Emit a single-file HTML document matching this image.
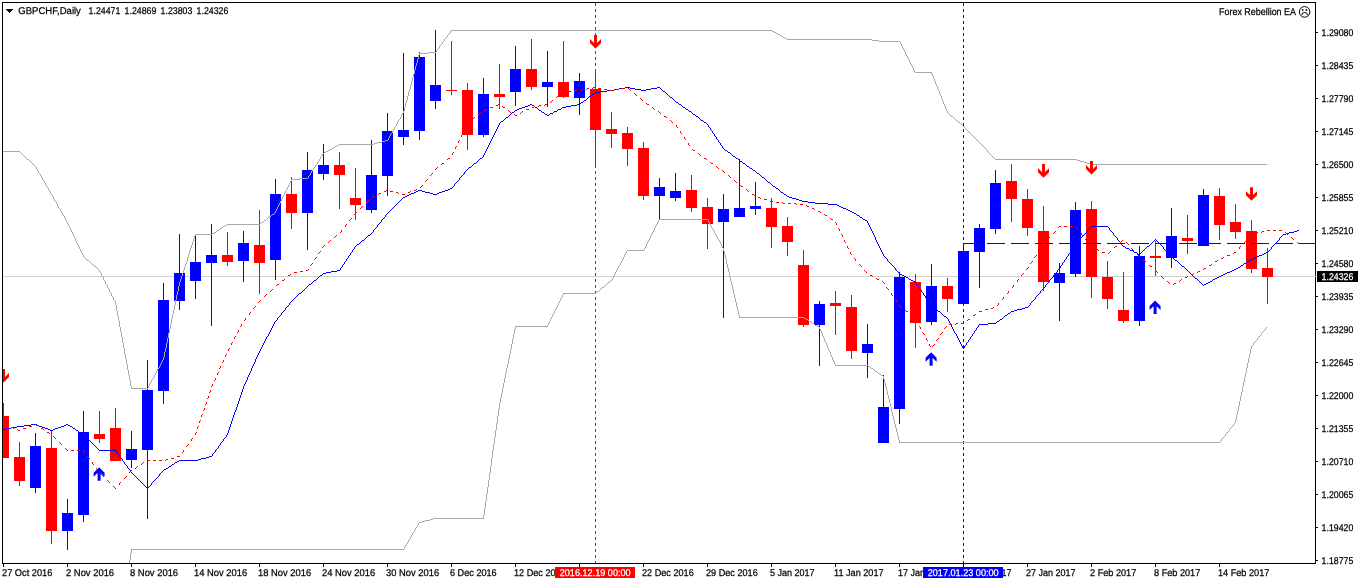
<!DOCTYPE html>
<html lang="en">
<head>
<meta charset="utf-8">
<title>GBPCHF,Daily</title>
<style>
html,body{margin:0;padding:0;background:#fff;}
body{width:1358px;height:584px;overflow:hidden;}
svg{display:block;}
text{text-rendering:geometricPrecision;font-family:"Liberation Sans",sans-serif;font-size:9.8px;fill:#000;stroke:#000;stroke-width:0.25px;}
.w{fill:#fff;stroke:#fff;}
</style>
</head>
<body>
<svg width="1358" height="584" viewBox="0 0 1358 584">
<rect x="0" y="0" width="1358" height="584" fill="#fff"/>
<defs><clipPath id="c"><rect x="3" y="3" width="1312" height="560"/></clipPath></defs>
<g clip-path="url(#c)" shape-rendering="crispEdges" fill="none">
<rect x="3" y="276" width="1312" height="1" fill="#D0D0D0"/>
<line x1="595.5" y1="3" x2="595.5" y2="563" stroke="#FF0000" stroke-width="1" stroke-dasharray="3 3"/>
<line x1="963.5" y1="3" x2="963.5" y2="563" stroke="#0000FF" stroke-width="1" stroke-dasharray="3 3"/>
<g fill="#FF0000"><rect x="3" y="403" width="1" height="55"/><rect x="-2" y="416" width="11" height="42"/></g>
<g fill="#FF0000"><rect x="19" y="442" width="1" height="44"/><rect x="14" y="457" width="11" height="24"/></g>
<g fill="#0000FF"><rect x="35" y="433" width="1" height="60"/><rect x="30" y="446" width="11" height="42"/></g>
<g fill="#FF0000"><rect x="51" y="431" width="1" height="113"/><rect x="46" y="448" width="11" height="83"/></g>
<g fill="#0000FF"><rect x="67" y="499" width="1" height="51"/><rect x="62" y="513" width="11" height="18"/></g>
<g fill="#0000FF"><rect x="83" y="411" width="1" height="111"/><rect x="78" y="432" width="11" height="83"/></g>
<g fill="#FF0000"><rect x="99" y="411" width="1" height="32"/><rect x="94" y="434" width="11" height="5"/></g>
<g fill="#FF0000"><rect x="115" y="408" width="1" height="53"/><rect x="110" y="428" width="11" height="33"/></g>
<g fill="#0000FF"><rect x="131" y="431" width="1" height="37"/><rect x="126" y="449" width="11" height="11"/></g>
<g fill="#0000FF"><rect x="147" y="360" width="1" height="159"/><rect x="142" y="390" width="11" height="60"/></g>
<g fill="#0000FF"><rect x="163" y="283" width="1" height="121"/><rect x="158" y="300" width="11" height="91"/></g>
<g fill="#0000FF"><rect x="179" y="234" width="1" height="76"/><rect x="174" y="273" width="11" height="28"/></g>
<g fill="#0000FF"><rect x="195" y="236" width="1" height="63"/><rect x="190" y="262" width="11" height="19"/></g>
<g fill="#0000FF"><rect x="211" y="224" width="1" height="102"/><rect x="206" y="255" width="11" height="8"/></g>
<g fill="#FF0000"><rect x="227" y="232" width="1" height="34"/><rect x="222" y="255" width="11" height="7"/></g>
<g fill="#0000FF"><rect x="243" y="231" width="1" height="51"/><rect x="238" y="243" width="11" height="18"/></g>
<g fill="#FF0000"><rect x="259" y="210" width="1" height="84"/><rect x="254" y="245" width="11" height="18"/></g>
<g fill="#0000FF"><rect x="275" y="179" width="1" height="101"/><rect x="270" y="194" width="11" height="66"/></g>
<g fill="#FF0000"><rect x="291" y="177" width="1" height="52"/><rect x="286" y="194" width="11" height="19"/></g>
<g fill="#0000FF"><rect x="307" y="152" width="1" height="98"/><rect x="302" y="170" width="11" height="43"/></g>
<g fill="#0000FF"><rect x="323" y="144" width="1" height="36"/><rect x="318" y="165" width="11" height="9"/></g>
<g fill="#FF0000"><rect x="339" y="152" width="1" height="57"/><rect x="334" y="165" width="11" height="10"/></g>
<g fill="#FF0000"><rect x="355" y="168" width="1" height="52"/><rect x="350" y="198" width="11" height="7"/></g>
<g fill="#0000FF"><rect x="371" y="140" width="1" height="73"/><rect x="366" y="175" width="11" height="35"/></g>
<g fill="#0000FF"><rect x="387" y="113" width="1" height="83"/><rect x="382" y="131" width="11" height="45"/></g>
<g fill="#0000FF"><rect x="403" y="53" width="1" height="92"/><rect x="398" y="130" width="11" height="7"/></g>
<g fill="#0000FF"><rect x="419" y="52" width="1" height="88"/><rect x="414" y="57" width="11" height="74"/></g>
<g fill="#0000FF"><rect x="435" y="30" width="1" height="79"/><rect x="430" y="85" width="11" height="16"/></g>
<g fill="#FF0000"><rect x="451" y="41" width="1" height="54"/><rect x="446" y="90" width="11" height="1"/></g>
<g fill="#FF0000"><rect x="467" y="83" width="1" height="67"/><rect x="462" y="90" width="11" height="45"/></g>
<g fill="#0000FF"><rect x="483" y="78" width="1" height="59"/><rect x="478" y="94" width="11" height="41"/></g>
<g fill="#FF0000"><rect x="499" y="64" width="1" height="45"/><rect x="494" y="94" width="11" height="3"/></g>
<g fill="#0000FF"><rect x="515" y="46" width="1" height="60"/><rect x="510" y="69" width="11" height="23"/></g>
<g fill="#FF0000"><rect x="531" y="39" width="1" height="51"/><rect x="526" y="69" width="11" height="18"/></g>
<g fill="#0000FF"><rect x="547" y="51" width="1" height="56"/><rect x="542" y="82" width="11" height="5"/></g>
<g fill="#FF0000"><rect x="563" y="41" width="1" height="57"/><rect x="558" y="82" width="11" height="15"/></g>
<g fill="#0000FF"><rect x="579" y="73" width="1" height="42"/><rect x="574" y="81" width="11" height="17"/></g>
<g fill="#FF0000"><rect x="595" y="69" width="1" height="98"/><rect x="590" y="89" width="11" height="41"/></g>
<g fill="#FF0000"><rect x="611" y="112" width="1" height="36"/><rect x="606" y="129" width="11" height="5"/></g>
<g fill="#FF0000"><rect x="627" y="127" width="1" height="39"/><rect x="622" y="133" width="11" height="16"/></g>
<g fill="#FF0000"><rect x="643" y="142" width="1" height="58"/><rect x="638" y="148" width="11" height="48"/></g>
<g fill="#0000FF"><rect x="659" y="178" width="1" height="41"/><rect x="654" y="187" width="11" height="9"/></g>
<g fill="#0000FF"><rect x="675" y="173" width="1" height="28"/><rect x="670" y="191" width="11" height="7"/></g>
<g fill="#FF0000"><rect x="691" y="175" width="1" height="37"/><rect x="686" y="190" width="11" height="18"/></g>
<g fill="#FF0000"><rect x="707" y="198" width="1" height="51"/><rect x="702" y="207" width="11" height="17"/></g>
<g fill="#0000FF"><rect x="723" y="194" width="1" height="124"/><rect x="718" y="209" width="11" height="13"/></g>
<g fill="#0000FF"><rect x="739" y="159" width="1" height="58"/><rect x="734" y="208" width="11" height="9"/></g>
<g fill="#0000FF"><rect x="755" y="182" width="1" height="33"/><rect x="750" y="206" width="11" height="3"/></g>
<g fill="#FF0000"><rect x="771" y="198" width="1" height="50"/><rect x="766" y="208" width="11" height="19"/></g>
<g fill="#FF0000"><rect x="787" y="217" width="1" height="39"/><rect x="782" y="226" width="11" height="16"/></g>
<g fill="#FF0000"><rect x="803" y="250" width="1" height="77"/><rect x="798" y="265" width="11" height="60"/></g>
<g fill="#0000FF"><rect x="819" y="301" width="1" height="65"/><rect x="814" y="304" width="11" height="21"/></g>
<g fill="#FF0000"><rect x="835" y="291" width="1" height="44"/><rect x="830" y="303" width="11" height="3"/></g>
<g fill="#FF0000"><rect x="851" y="295" width="1" height="64"/><rect x="846" y="307" width="11" height="44"/></g>
<g fill="#0000FF"><rect x="867" y="324" width="1" height="54"/><rect x="862" y="344" width="11" height="9"/></g>
<g fill="#0000FF"><rect x="883" y="375" width="1" height="68"/><rect x="878" y="407" width="11" height="36"/></g>
<g fill="#0000FF"><rect x="899" y="272" width="1" height="152"/><rect x="894" y="277" width="11" height="132"/></g>
<g fill="#FF0000"><rect x="915" y="274" width="1" height="74"/><rect x="910" y="282" width="11" height="41"/></g>
<g fill="#0000FF"><rect x="931" y="264" width="1" height="61"/><rect x="926" y="286" width="11" height="36"/></g>
<g fill="#FF0000"><rect x="947" y="278" width="1" height="34"/><rect x="942" y="286" width="11" height="13"/></g>
<g fill="#0000FF"><rect x="963" y="243" width="1" height="61"/><rect x="958" y="251" width="11" height="53"/></g>
<g fill="#0000FF"><rect x="979" y="224" width="1" height="64"/><rect x="974" y="228" width="11" height="24"/></g>
<g fill="#0000FF"><rect x="995" y="170" width="1" height="64"/><rect x="990" y="183" width="11" height="46"/></g>
<g fill="#FF0000"><rect x="1011" y="164" width="1" height="58"/><rect x="1006" y="181" width="11" height="18"/></g>
<g fill="#FF0000"><rect x="1027" y="189" width="1" height="47"/><rect x="1022" y="199" width="11" height="29"/></g>
<g fill="#FF0000"><rect x="1043" y="206" width="1" height="85"/><rect x="1038" y="231" width="11" height="51"/></g>
<g fill="#0000FF"><rect x="1059" y="263" width="1" height="58"/><rect x="1054" y="273" width="11" height="10"/></g>
<g fill="#0000FF"><rect x="1075" y="202" width="1" height="75"/><rect x="1070" y="210" width="11" height="64"/></g>
<g fill="#FF0000"><rect x="1091" y="201" width="1" height="97"/><rect x="1086" y="209" width="11" height="68"/></g>
<g fill="#FF0000"><rect x="1107" y="261" width="1" height="48"/><rect x="1102" y="277" width="11" height="22"/></g>
<g fill="#FF0000"><rect x="1123" y="272" width="1" height="51"/><rect x="1118" y="310" width="11" height="11"/></g>
<g fill="#0000FF"><rect x="1139" y="246" width="1" height="80"/><rect x="1134" y="256" width="11" height="65"/></g>
<g fill="#FF0000"><rect x="1155" y="241" width="1" height="35"/><rect x="1150" y="256" width="11" height="2"/></g>
<g fill="#0000FF"><rect x="1171" y="208" width="1" height="60"/><rect x="1166" y="236" width="11" height="22"/></g>
<g fill="#FF0000"><rect x="1187" y="215" width="1" height="39"/><rect x="1182" y="238" width="11" height="3"/></g>
<g fill="#0000FF"><rect x="1203" y="189" width="1" height="57"/><rect x="1198" y="195" width="11" height="51"/></g>
<g fill="#FF0000"><rect x="1219" y="188" width="1" height="52"/><rect x="1214" y="196" width="11" height="29"/></g>
<g fill="#FF0000"><rect x="1235" y="204" width="1" height="35"/><rect x="1230" y="222" width="11" height="10"/></g>
<g fill="#FF0000"><rect x="1251" y="220" width="1" height="53"/><rect x="1246" y="231" width="11" height="38"/></g>
<g fill="#FF0000"><rect x="1267" y="248" width="1" height="56"/><rect x="1262" y="268" width="11" height="9"/></g>
<path d="M2 151h18v1h-18zM20 152h1v1h-1zM21 153h1v1h-1zM22 154h1v1h-1zM23 155h1v1h-1zM24 156h1v1h-1zM25 157h1v1h-1zM26 158h1v1h-1zM27 159h2v1h-2zM29 160h1v1h-1zM30 161h1v1h-1zM31 162h1v1h-1zM32 163h1v1h-1zM33 164h1v1h-1zM34 165h1v1h-1zM35 166h1v1h-1zM36 167h1v2h-1zM37 169h1v2h-1zM38 171h1v2h-1zM39 173h1v1h-1zM40 174h1v2h-1zM41 176h1v2h-1zM42 178h1v2h-1zM43 180h1v1h-1zM44 181h1v2h-1zM45 183h1v2h-1zM46 185h1v2h-1zM47 187h1v1h-1zM48 188h1v2h-1zM49 190h1v2h-1zM50 192h1v2h-1zM51 194h1v1h-1zM52 195h1v2h-1zM53 197h1v2h-1zM54 199h1v2h-1zM55 201h1v1h-1zM56 202h1v2h-1zM57 204h1v2h-1zM58 206h1v2h-1zM59 208h1v1h-1zM60 209h1v2h-1zM61 211h1v2h-1zM62 213h1v2h-1zM63 215h1v1h-1zM64 216h1v2h-1zM65 218h1v2h-1zM66 220h1v2h-1zM67 222h1v2h-1zM68 224h1v2h-1zM69 226h1v2h-1zM70 228h1v2h-1zM71 230h1v2h-1zM72 232h1v2h-1zM73 234h1v2h-1zM74 236h1v2h-1zM75 238h1v3h-1zM76 241h1v2h-1zM77 243h1v2h-1zM78 245h1v2h-1zM79 247h1v2h-1zM80 249h1v2h-1zM81 251h1v2h-1zM82 253h1v2h-1zM83 255h1v2h-1zM84 257h1v1h-1zM85 258h1v1h-1zM86 259h1v1h-1zM87 260h2v1h-2zM89 261h1v1h-1zM90 262h1v1h-1zM91 263h1v1h-1zM92 264h1v1h-1zM93 265h1v1h-1zM94 266h2v1h-2zM96 267h1v1h-1zM97 268h1v1h-1zM98 269h1v1h-1zM99 270h1v2h-1zM100 272h1v1h-1zM101 273h1v3h-1zM102 276h1v1h-1zM103 277h1v3h-1zM104 280h1v1h-1zM105 281h1v3h-1zM106 284h1v1h-1zM107 285h1v3h-1zM108 288h1v1h-1zM109 289h1v3h-1zM110 292h1v1h-1zM111 293h1v3h-1zM112 296h1v1h-1zM113 297h1v3h-1zM114 300h1v1h-1zM115 301h1v4h-1zM116 305h1v6h-1zM117 311h1v5h-1zM118 316h1v5h-1zM119 321h1v6h-1zM120 327h1v5h-1zM121 332h1v5h-1zM122 337h1v6h-1zM123 343h1v5h-1zM124 348h1v6h-1zM125 354h1v5h-1zM126 359h1v5h-1zM127 364h1v6h-1zM128 370h1v5h-1zM129 375h1v5h-1zM130 380h1v6h-1zM131 386h1v3h-1zM132 388h16v1h-16zM148 386h1v2h-1zM149 384h1v2h-1zM150 382h1v2h-1zM151 380h1v2h-1zM152 379h1v1h-1zM153 377h1v2h-1zM154 375h1v2h-1zM155 373h1v2h-1zM156 371h1v2h-1zM157 369h1v2h-1zM158 368h1v1h-1zM159 366h1v2h-1zM160 364h1v2h-1zM161 362h1v2h-1zM162 360h1v2h-1zM163 357h1v3h-1zM164 352h1v5h-1zM165 348h1v4h-1zM166 343h1v5h-1zM167 338h1v5h-1zM168 333h1v5h-1zM169 329h1v4h-1zM170 324h1v5h-1zM171 319h1v5h-1zM172 314h1v5h-1zM173 310h1v4h-1zM174 305h1v5h-1zM175 300h1v5h-1zM176 295h1v5h-1zM177 291h1v4h-1zM178 286h1v5h-1zM179 282h1v4h-1zM180 279h1v3h-1zM181 276h1v3h-1zM182 273h1v3h-1zM183 270h1v3h-1zM184 267h1v3h-1zM185 264h1v3h-1zM186 261h1v3h-1zM187 257h1v4h-1zM188 254h1v3h-1zM189 251h1v3h-1zM190 248h1v3h-1zM191 245h1v3h-1zM192 242h1v3h-1zM193 239h1v3h-1zM194 236h1v3h-1zM195 234h1v2h-1zM196 234h16v1h-16zM212 233h2v1h-2zM214 232h2v1h-2zM216 231h1v1h-1zM217 230h2v1h-2zM219 229h1v1h-1zM220 228h2v1h-2zM222 227h1v1h-1zM223 226h2v1h-2zM225 225h2v1h-2zM227 224h33v1h-33zM260 223h1v1h-1zM261 222h2v1h-2zM263 221h1v1h-1zM264 220h2v1h-2zM266 219h1v1h-1zM267 218h1v1h-1zM268 217h1v1h-1zM269 216h2v1h-2zM271 215h1v1h-1zM272 214h2v1h-2zM274 213h1v1h-1zM275 211h1v2h-1zM276 209h1v2h-1zM277 207h1v2h-1zM278 205h1v2h-1zM279 203h1v2h-1zM280 201h1v2h-1zM281 199h1v2h-1zM282 197h1v2h-1zM283 195h1v2h-1zM284 193h1v2h-1zM285 191h1v2h-1zM286 189h1v2h-1zM287 187h1v2h-1zM288 185h1v2h-1zM289 183h1v2h-1zM290 181h1v2h-1zM291 179h1v2h-1zM292 179h8v1h-8zM300 178h8v1h-8zM308 176h1v2h-1zM309 175h1v1h-1zM310 173h1v2h-1zM311 171h1v2h-1zM312 170h1v1h-1zM313 168h1v2h-1zM314 167h1v1h-1zM315 165h1v2h-1zM316 164h1v1h-1zM317 162h1v2h-1zM318 161h1v1h-1zM319 159h1v2h-1zM320 157h1v2h-1zM321 156h1v1h-1zM322 154h1v2h-1zM323 153h1v1h-1zM324 152h2v1h-2zM326 151h2v1h-2zM328 150h2v1h-2zM330 149h2v1h-2zM332 148h1v1h-1zM333 147h2v1h-2zM335 146h2v1h-2zM337 145h2v1h-2zM339 144h35v1h-35zM374 143h3v1h-3zM377 142h5v1h-5zM382 141h3v1h-3zM385 140h3v1h-3zM388 138h1v2h-1zM389 136h1v2h-1zM390 134h1v2h-1zM391 133h1v1h-1zM392 131h1v2h-1zM393 129h1v2h-1zM394 127h1v2h-1zM395 126h1v1h-1zM396 124h1v2h-1zM397 122h1v2h-1zM398 120h1v2h-1zM399 119h1v1h-1zM400 117h1v2h-1zM401 115h1v2h-1zM402 113h1v2h-1zM403 111h1v2h-1zM404 107h1v4h-1zM405 103h1v4h-1zM406 100h1v3h-1zM407 96h1v4h-1zM408 92h1v4h-1zM409 89h1v3h-1zM410 85h1v4h-1zM411 81h1v4h-1zM412 77h1v4h-1zM413 74h1v3h-1zM414 70h1v4h-1zM415 66h1v4h-1zM416 63h1v3h-1zM417 59h1v4h-1zM418 55h1v4h-1zM419 53h1v2h-1zM420 53h8v1h-8zM428 52h8v1h-8zM436 50h1v2h-1zM437 49h1v1h-1zM438 48h1v1h-1zM439 46h1v2h-1zM440 45h1v1h-1zM441 44h1v1h-1zM442 42h1v2h-1zM443 41h1v1h-1zM444 39h1v2h-1zM445 38h1v1h-1zM446 37h1v1h-1zM447 35h1v2h-1zM448 34h1v1h-1zM449 33h1v1h-1zM450 31h1v2h-1zM451 30h321v1h-321zM772 31h2v1h-2zM774 32h2v1h-2zM776 33h2v1h-2zM778 34h2v1h-2zM780 35h1v1h-1zM781 36h2v1h-2zM783 37h2v1h-2zM785 38h2v1h-2zM787 39h85v1h-85zM872 40h7v1h-7zM879 41h21v1h-21zM900 42h1v2h-1zM901 44h1v2h-1zM902 46h1v2h-1zM903 48h1v2h-1zM904 50h1v2h-1zM905 52h1v2h-1zM906 54h1v2h-1zM907 56h1v2h-1zM908 58h1v2h-1zM909 60h1v2h-1zM910 62h1v2h-1zM911 64h1v2h-1zM912 66h1v2h-1zM913 68h1v2h-1zM914 70h1v2h-1zM915 72h17v1h-17zM931 73h1v1h-1zM932 74h1v2h-1zM933 76h1v3h-1zM934 79h1v2h-1zM935 81h1v3h-1zM936 84h1v2h-1zM937 86h1v3h-1zM938 89h1v2h-1zM939 91h1v3h-1zM940 94h1v2h-1zM941 96h1v3h-1zM942 99h1v2h-1zM943 101h1v3h-1zM944 104h1v2h-1zM945 106h1v3h-1zM946 109h1v2h-1zM947 111h1v2h-1zM948 113h1v1h-1zM949 114h1v1h-1zM950 115h1v1h-1zM951 116h2v1h-2zM953 117h1v1h-1zM954 118h1v1h-1zM955 119h1v1h-1zM956 120h1v1h-1zM957 121h1v1h-1zM958 122h2v1h-2zM960 123h1v1h-1zM961 124h1v1h-1zM962 125h1v1h-1zM963 126h1v1h-1zM964 127h1v1h-1zM965 128h1v1h-1zM966 129h1v1h-1zM967 130h1v1h-1zM968 131h1v1h-1zM969 132h1v1h-1zM970 133h1v1h-1zM971 134h1v1h-1zM972 135h1v1h-1zM973 136h1v1h-1zM974 137h1v1h-1zM975 138h1v1h-1zM976 139h1v1h-1zM977 140h1v1h-1zM978 141h1v1h-1zM979 142h1v1h-1zM980 143h1v1h-1zM981 144h1v1h-1zM982 145h1v1h-1zM983 146h1v1h-1zM984 147h1v1h-1zM985 148h1v1h-1zM986 149h1v1h-1zM987 150h1v2h-1zM988 152h1v1h-1zM989 153h1v1h-1zM990 154h1v1h-1zM991 155h1v1h-1zM992 156h1v1h-1zM993 157h1v1h-1zM994 158h1v1h-1zM995 159h82v1h-82zM1077 160h3v1h-3zM1080 161h4v1h-4zM1084 162h3v1h-3zM1087 163h3v1h-3zM1090 164h177v1h-177z" fill="#A9A9A9"/>
<path d="M115 657h1v4h-1zM116 650h1v7h-1zM117 643h1v7h-1zM118 636h1v7h-1zM119 629h1v7h-1zM120 622h1v7h-1zM121 615h1v7h-1zM122 608h1v7h-1zM123 602h1v6h-1zM124 595h1v7h-1zM125 588h1v7h-1zM126 581h1v7h-1zM127 574h1v7h-1zM128 567h1v7h-1zM129 560h1v7h-1zM130 553h1v7h-1zM131 549h1v4h-1zM132 549h272v1h-272zM404 547h1v2h-1zM405 545h1v2h-1zM406 544h1v1h-1zM407 542h1v2h-1zM408 540h1v2h-1zM409 539h1v1h-1zM410 537h1v2h-1zM411 535h1v2h-1zM412 533h1v2h-1zM413 532h1v1h-1zM414 530h1v2h-1zM415 528h1v2h-1zM416 527h1v1h-1zM417 525h1v2h-1zM418 523h1v2h-1zM419 522h3v1h-3zM422 521h3v1h-3zM425 520h5v1h-5zM430 519h3v1h-3zM433 518h51v1h-51zM483 515h1v3h-1zM484 508h1v7h-1zM485 501h1v7h-1zM486 494h1v7h-1zM487 487h1v7h-1zM488 480h1v7h-1zM489 473h1v7h-1zM490 466h1v7h-1zM491 458h1v8h-1zM492 451h1v7h-1zM493 444h1v7h-1zM494 437h1v7h-1zM495 430h1v7h-1zM496 423h1v7h-1zM497 416h1v7h-1zM498 409h1v7h-1zM499 403h1v6h-1zM500 398h1v5h-1zM501 393h1v5h-1zM502 388h1v5h-1zM503 383h1v5h-1zM504 378h1v5h-1zM505 373h1v5h-1zM506 368h1v5h-1zM507 364h1v4h-1zM508 359h1v5h-1zM509 354h1v5h-1zM510 349h1v5h-1zM511 344h1v5h-1zM512 339h1v5h-1zM513 334h1v5h-1zM514 329h1v5h-1zM515 326h1v3h-1zM516 326h32v1h-32zM547 325h1v1h-1zM548 323h1v2h-1zM549 321h1v2h-1zM550 319h1v2h-1zM551 317h1v2h-1zM552 315h1v2h-1zM553 313h1v2h-1zM554 311h1v2h-1zM555 309h1v2h-1zM556 307h1v2h-1zM557 305h1v2h-1zM558 303h1v2h-1zM559 301h1v2h-1zM560 299h1v2h-1zM561 297h1v2h-1zM562 295h1v2h-1zM563 293h1v2h-1zM564 293h32v1h-32zM596 292h1v1h-1zM597 291h2v1h-2zM599 290h1v1h-1zM600 289h1v1h-1zM601 288h1v1h-1zM602 287h2v1h-2zM604 286h1v1h-1zM605 285h1v1h-1zM606 284h1v1h-1zM607 283h1v1h-1zM608 282h2v1h-2zM610 281h1v1h-1zM611 280h1v1h-1zM612 278h1v2h-1zM613 276h1v2h-1zM614 274h1v2h-1zM615 272h1v2h-1zM616 270h1v2h-1zM617 268h1v2h-1zM618 266h1v2h-1zM619 265h1v1h-1zM620 263h1v2h-1zM621 261h1v2h-1zM622 259h1v2h-1zM623 257h1v2h-1zM624 255h1v2h-1zM625 253h1v2h-1zM626 251h1v2h-1zM627 250h17v1h-17zM644 248h1v2h-1zM645 246h1v2h-1zM646 244h1v2h-1zM647 242h1v2h-1zM648 240h1v2h-1zM649 238h1v2h-1zM650 236h1v2h-1zM651 234h1v2h-1zM652 232h1v2h-1zM653 230h1v2h-1zM654 228h1v2h-1zM655 226h1v2h-1zM656 224h1v2h-1zM657 222h1v2h-1zM658 220h1v2h-1zM659 219h49v1h-49zM708 220h1v2h-1zM709 222h1v2h-1zM710 224h1v2h-1zM711 226h1v2h-1zM712 228h1v1h-1zM713 229h1v2h-1zM714 231h1v2h-1zM715 233h1v2h-1zM716 235h1v2h-1zM717 237h1v2h-1zM718 239h1v1h-1zM719 240h1v2h-1zM720 242h1v2h-1zM721 244h1v2h-1zM722 246h1v2h-1zM723 248h1v3h-1zM724 251h1v4h-1zM725 255h1v4h-1zM726 259h1v5h-1zM727 264h1v4h-1zM728 268h1v4h-1zM729 272h1v5h-1zM730 277h1v4h-1zM731 281h1v4h-1zM732 285h1v4h-1zM733 289h1v5h-1zM734 294h1v4h-1zM735 298h1v4h-1zM736 302h1v5h-1zM737 307h1v4h-1zM738 311h1v4h-1zM739 315h1v3h-1zM740 317h64v1h-64zM804 318h2v1h-2zM806 319h2v1h-2zM808 320h1v1h-1zM809 321h2v1h-2zM811 322h1v1h-1zM812 323h2v1h-2zM814 324h1v1h-1zM815 325h2v1h-2zM817 326h2v1h-2zM819 327h1v2h-1zM820 329h1v2h-1zM821 331h1v2h-1zM822 333h1v3h-1zM823 336h1v2h-1zM824 338h1v3h-1zM825 341h1v2h-1zM826 343h1v2h-1zM827 345h1v3h-1zM828 348h1v2h-1zM829 350h1v2h-1zM830 352h1v3h-1zM831 355h1v2h-1zM832 357h1v3h-1zM833 360h1v2h-1zM834 362h1v2h-1zM835 364h1v2h-1zM836 365h32v1h-32zM868 366h2v1h-2zM870 367h1v1h-1zM871 368h2v1h-2zM873 369h1v1h-1zM874 370h1v1h-1zM875 371h2v1h-2zM877 372h1v1h-1zM878 373h2v1h-2zM880 374h1v1h-1zM881 375h2v1h-2zM883 376h1v3h-1zM884 379h1v4h-1zM885 383h1v4h-1zM886 387h1v4h-1zM887 391h1v4h-1zM888 395h1v4h-1zM889 399h1v4h-1zM890 403h1v4h-1zM891 407h1v5h-1zM892 412h1v4h-1zM893 416h1v4h-1zM894 420h1v4h-1zM895 424h1v4h-1zM896 428h1v4h-1zM897 432h1v4h-1zM898 436h1v4h-1zM899 440h1v3h-1zM900 442h320v1h-320zM1220 441h1v1h-1zM1221 439h1v2h-1zM1222 438h1v1h-1zM1223 437h1v1h-1zM1224 436h1v1h-1zM1225 434h1v2h-1zM1226 433h1v1h-1zM1227 432h1v1h-1zM1228 431h1v1h-1zM1229 429h1v2h-1zM1230 428h1v1h-1zM1231 427h1v1h-1zM1232 426h1v1h-1zM1233 424h1v2h-1zM1234 423h1v1h-1zM1235 420h1v3h-1zM1236 415h1v5h-1zM1237 411h1v4h-1zM1238 406h1v5h-1zM1239 401h1v5h-1zM1240 396h1v5h-1zM1241 392h1v4h-1zM1242 387h1v5h-1zM1243 382h1v5h-1zM1244 377h1v5h-1zM1245 373h1v4h-1zM1246 368h1v5h-1zM1247 363h1v5h-1zM1248 358h1v5h-1zM1249 354h1v4h-1zM1250 349h1v5h-1zM1251 346h1v3h-1zM1252 345h1v1h-1zM1253 343h1v2h-1zM1254 342h1v1h-1zM1255 341h1v1h-1zM1256 340h1v1h-1zM1257 338h1v2h-1zM1258 337h1v1h-1zM1259 336h1v1h-1zM1260 335h1v1h-1zM1261 333h1v2h-1zM1262 332h1v1h-1zM1263 331h1v1h-1zM1264 330h1v1h-1zM1265 328h1v2h-1zM1266 327h1v1h-1z" fill="#A9A9A9"/>
<line x1="963" y1="243.5" x2="1315" y2="243.5" stroke="#0000FF" stroke-width="1" stroke-dasharray="18 6"/>
<path d="M3 429h3v1h-3zM6 428h5v1h-5zM11 427h6v1h-6zM17 426h7v1h-7zM24 425h7v1h-7zM31 424h6v1h-6zM37 425h2v1h-2zM39 426h3v1h-3zM42 427h3v1h-3zM45 428h3v1h-3zM48 429h2v1h-2zM50 430h3v1h-3zM53 429h2v1h-2zM55 428h3v1h-3zM58 427h3v1h-3zM61 426h3v1h-3zM64 425h2v1h-2zM66 424h2v1h-2zM68 425h2v1h-2zM70 426h2v1h-2zM72 427h1v1h-1zM73 428h2v1h-2zM75 429h1v1h-1zM76 430h2v1h-2zM78 431h1v1h-1zM79 432h2v1h-2zM81 433h2v1h-2zM83 434h1v1h-1zM84 435h1v1h-1zM85 436h1v1h-1zM86 437h1v1h-1zM87 438h1v1h-1zM88 439h1v1h-1zM89 440h1v1h-1zM90 441h1v1h-1zM91 442h1v1h-1zM92 443h1v1h-1zM93 444h1v1h-1zM94 445h1v1h-1zM95 446h1v1h-1zM96 447h1v1h-1zM97 448h1v1h-1zM98 449h1v1h-1zM99 450h17v1h-17zM116 451h1v2h-1zM117 453h1v1h-1zM118 454h1v1h-1zM119 455h1v2h-1zM120 457h1v1h-1zM121 458h1v1h-1zM122 459h1v2h-1zM123 461h1v1h-1zM124 462h1v2h-1zM125 464h1v1h-1zM126 465h1v1h-1zM127 466h1v2h-1zM128 468h1v1h-1zM129 469h1v1h-1zM130 470h1v2h-1zM131 472h1v1h-1zM132 473h1v1h-1zM133 474h1v1h-1zM134 475h1v1h-1zM135 476h1v1h-1zM136 477h1v1h-1zM137 478h1v1h-1zM138 479h1v1h-1zM139 480h1v1h-1zM140 481h1v1h-1zM141 482h1v1h-1zM142 483h1v1h-1zM143 484h1v1h-1zM144 485h1v1h-1zM145 486h1v1h-1zM146 487h1v1h-1zM147 488h1v1h-1zM148 487h1v1h-1zM149 486h1v1h-1zM150 485h1v1h-1zM151 483h1v2h-1zM152 482h1v1h-1zM153 481h1v1h-1zM154 480h1v1h-1zM155 479h1v1h-1zM156 478h1v1h-1zM157 477h1v1h-1zM158 476h1v1h-1zM159 474h1v2h-1zM160 473h1v1h-1zM161 472h1v1h-1zM162 471h1v1h-1zM163 470h1v1h-1zM164 469h2v1h-2zM166 468h2v1h-2zM168 467h1v1h-1zM169 466h2v1h-2zM171 465h1v1h-1zM172 464h2v1h-2zM174 463h1v1h-1zM175 462h2v1h-2zM177 461h2v1h-2zM179 460h19v1h-19zM198 459h3v1h-3zM201 458h5v1h-5zM206 457h3v1h-3zM209 456h3v1h-3zM212 454h1v2h-1zM213 453h1v1h-1zM214 452h1v1h-1zM215 450h1v2h-1zM216 449h1v1h-1zM217 448h1v1h-1zM218 446h1v2h-1zM219 445h1v1h-1zM220 443h1v2h-1zM221 442h1v1h-1zM222 441h1v1h-1zM223 439h1v2h-1zM224 438h1v1h-1zM225 437h1v1h-1zM226 435h1v2h-1zM227 433h1v2h-1zM228 430h1v3h-1zM229 427h1v3h-1zM230 424h1v3h-1zM231 421h1v3h-1zM232 418h1v3h-1zM233 415h1v3h-1zM234 412h1v3h-1zM235 410h1v2h-1zM236 407h1v3h-1zM237 404h1v3h-1zM238 401h1v3h-1zM239 398h1v3h-1zM240 395h1v3h-1zM241 392h1v3h-1zM242 389h1v3h-1zM243 386h1v3h-1zM244 384h1v2h-1zM245 382h1v2h-1zM246 380h1v2h-1zM247 377h1v3h-1zM248 375h1v2h-1zM249 373h1v2h-1zM250 371h1v2h-1zM251 368h1v3h-1zM252 366h1v2h-1zM253 364h1v2h-1zM254 362h1v2h-1zM255 359h1v3h-1zM256 357h1v2h-1zM257 355h1v2h-1zM258 353h1v2h-1zM259 351h1v2h-1zM260 349h1v2h-1zM261 347h1v2h-1zM262 345h1v2h-1zM263 343h1v2h-1zM264 341h1v2h-1zM265 339h1v2h-1zM266 337h1v2h-1zM267 336h1v1h-1zM268 334h1v2h-1zM269 332h1v2h-1zM270 330h1v2h-1zM271 328h1v2h-1zM272 326h1v2h-1zM273 324h1v2h-1zM274 322h1v2h-1zM275 321h1v1h-1zM276 320h1v1h-1zM277 318h1v2h-1zM278 317h1v1h-1zM279 316h1v1h-1zM280 315h1v1h-1zM281 313h1v2h-1zM282 312h1v1h-1zM283 311h1v1h-1zM284 310h1v1h-1zM285 308h1v2h-1zM286 307h1v1h-1zM287 306h1v1h-1zM288 305h1v1h-1zM289 303h1v2h-1zM290 302h1v1h-1zM291 301h1v1h-1zM292 300h1v1h-1zM293 299h1v1h-1zM294 298h1v1h-1zM295 297h1v1h-1zM296 296h1v1h-1zM297 295h1v1h-1zM298 294h1v1h-1zM299 293h2v1h-2zM301 292h1v1h-1zM302 291h1v1h-1zM303 290h1v1h-1zM304 289h1v1h-1zM305 288h1v1h-1zM306 287h1v1h-1zM307 286h1v1h-1zM308 285h1v1h-1zM309 284h2v1h-2zM311 283h1v1h-1zM312 282h1v1h-1zM313 281h1v1h-1zM314 280h2v1h-2zM316 279h1v1h-1zM317 278h1v1h-1zM318 277h1v1h-1zM319 276h1v1h-1zM320 275h2v1h-2zM322 274h1v1h-1zM323 273h3v1h-3zM326 272h5v1h-5zM331 271h6v1h-6zM337 270h3v1h-3zM340 268h1v2h-1zM341 267h1v1h-1zM342 265h1v2h-1zM343 264h1v1h-1zM344 262h1v2h-1zM345 261h1v1h-1zM346 259h1v2h-1zM347 258h1v1h-1zM348 256h1v2h-1zM349 255h1v1h-1zM350 253h1v2h-1zM351 252h1v1h-1zM352 250h1v2h-1zM353 249h1v1h-1zM354 247h1v2h-1zM355 246h1v1h-1zM356 245h1v1h-1zM357 244h2v1h-2zM359 243h1v1h-1zM360 242h1v1h-1zM361 241h1v1h-1zM362 240h2v1h-2zM364 239h1v1h-1zM365 238h1v1h-1zM366 237h1v1h-1zM367 236h1v1h-1zM368 235h2v1h-2zM370 234h1v1h-1zM371 233h1v1h-1zM372 232h1v1h-1zM373 230h1v2h-1zM374 229h1v1h-1zM375 228h1v1h-1zM376 227h1v1h-1zM377 225h1v2h-1zM378 224h1v1h-1zM379 223h1v1h-1zM380 222h1v1h-1zM381 220h1v2h-1zM382 219h1v1h-1zM383 218h1v1h-1zM384 217h1v1h-1zM385 215h1v2h-1zM386 214h1v1h-1zM387 213h1v1h-1zM388 212h1v1h-1zM389 211h1v1h-1zM390 210h1v1h-1zM391 209h1v1h-1zM392 208h1v1h-1zM393 207h1v1h-1zM394 206h1v1h-1zM395 205h1v1h-1zM396 204h1v1h-1zM397 203h1v1h-1zM398 202h1v1h-1zM399 201h1v1h-1zM400 200h1v1h-1zM401 199h1v1h-1zM402 198h1v1h-1zM403 197h2v1h-2zM405 196h2v1h-2zM407 195h2v1h-2zM409 194h2v1h-2zM411 193h3v1h-3zM414 192h2v1h-2zM416 191h2v1h-2zM418 190h4v1h-4zM422 191h3v1h-3zM425 192h5v1h-5zM430 193h3v1h-3zM433 194h4v1h-4zM437 193h2v1h-2zM439 192h3v1h-3zM442 191h3v1h-3zM445 190h3v1h-3zM448 189h2v1h-2zM450 188h2v1h-2zM452 187h1v1h-1zM453 186h1v1h-1zM454 184h1v2h-1zM455 183h1v1h-1zM456 182h1v1h-1zM457 181h1v1h-1zM458 180h1v1h-1zM459 178h1v2h-1zM460 177h1v1h-1zM461 176h1v1h-1zM462 175h1v1h-1zM463 174h1v1h-1zM464 172h1v2h-1zM465 171h1v1h-1zM466 170h1v1h-1zM467 169h1v1h-1zM468 168h1v1h-1zM469 167h2v1h-2zM471 166h1v1h-1zM472 165h1v1h-1zM473 164h1v1h-1zM474 163h2v1h-2zM476 162h1v1h-1zM477 161h1v1h-1zM478 160h1v1h-1zM479 159h1v1h-1zM480 158h2v1h-2zM482 157h1v1h-1zM483 155h1v2h-1zM484 153h1v2h-1zM485 151h1v2h-1zM486 149h1v2h-1zM487 147h1v2h-1zM488 145h1v2h-1zM489 143h1v2h-1zM490 141h1v2h-1zM491 139h1v2h-1zM492 137h1v2h-1zM493 135h1v2h-1zM494 133h1v2h-1zM495 131h1v2h-1zM496 129h1v2h-1zM497 127h1v2h-1zM498 125h1v2h-1zM499 123h1v2h-1zM500 122h1v1h-1zM501 121h2v1h-2zM503 120h1v1h-1zM504 119h1v1h-1zM505 118h1v1h-1zM506 117h2v1h-2zM508 116h1v1h-1zM509 115h1v1h-1zM510 114h1v1h-1zM511 113h1v1h-1zM512 112h2v1h-2zM514 111h1v1h-1zM515 110h2v1h-2zM517 109h2v1h-2zM519 108h3v1h-3zM522 107h3v1h-3zM525 106h3v1h-3zM528 105h2v1h-2zM530 104h2v1h-2zM532 105h2v1h-2zM534 106h1v1h-1zM535 107h2v1h-2zM537 108h1v1h-1zM538 109h1v1h-1zM539 110h2v1h-2zM541 111h1v1h-1zM542 112h2v1h-2zM544 113h1v1h-1zM545 114h2v1h-2zM547 115h2v1h-2zM549 114h1v1h-1zM550 113h3v1h-3zM553 112h1v1h-1zM554 111h3v1h-3zM557 110h1v1h-1zM558 109h3v1h-3zM561 108h1v1h-1zM562 107h4v1h-4zM566 106h5v1h-5zM571 105h6v1h-6zM577 104h3v1h-3zM580 103h1v1h-1zM581 102h2v1h-2zM583 101h1v1h-1zM584 100h2v1h-2zM586 99h1v1h-1zM587 98h1v1h-1zM588 97h1v1h-1zM589 96h2v1h-2zM591 95h1v1h-1zM592 94h2v1h-2zM594 93h1v1h-1zM595 92h5v1h-5zM600 91h7v1h-7zM607 90h7v1h-7zM614 89h5v1h-5zM619 88h6v1h-6zM625 87h5v1h-5zM630 88h5v1h-5zM635 89h6v1h-6zM641 90h5v1h-5zM646 89h5v1h-5zM651 88h6v1h-6zM657 87h3v1h-3zM660 88h1v1h-1zM661 89h1v1h-1zM662 90h1v1h-1zM663 91h2v1h-2zM665 92h1v1h-1zM666 93h1v1h-1zM667 94h1v1h-1zM668 95h1v1h-1zM669 96h1v1h-1zM670 97h2v1h-2zM672 98h1v1h-1zM673 99h1v1h-1zM674 100h1v1h-1zM675 101h1v1h-1zM676 102h2v1h-2zM678 103h1v1h-1zM679 104h2v1h-2zM681 105h1v1h-1zM682 106h1v1h-1zM683 107h2v1h-2zM685 108h1v1h-1zM686 109h2v1h-2zM688 110h1v1h-1zM689 111h2v1h-2zM691 112h1v1h-1zM692 113h1v1h-1zM693 114h2v1h-2zM695 115h1v1h-1zM696 116h2v1h-2zM698 117h1v1h-1zM699 118h1v1h-1zM700 119h1v1h-1zM701 120h2v1h-2zM703 121h1v1h-1zM704 122h2v1h-2zM706 123h1v1h-1zM707 124h1v1h-1zM708 125h1v2h-1zM709 127h1v1h-1zM710 128h1v2h-1zM711 130h1v1h-1zM712 131h1v2h-1zM713 133h1v1h-1zM714 134h1v2h-1zM715 136h1v1h-1zM716 137h1v2h-1zM717 139h1v1h-1zM718 140h1v2h-1zM719 142h1v1h-1zM720 143h1v2h-1zM721 145h1v1h-1zM722 146h1v2h-1zM723 148h1v1h-1zM724 149h1v1h-1zM725 150h2v1h-2zM727 151h1v1h-1zM728 152h2v1h-2zM730 153h1v1h-1zM731 154h1v1h-1zM732 155h1v1h-1zM733 156h2v1h-2zM735 157h1v1h-1zM736 158h2v1h-2zM738 159h1v1h-1zM739 160h1v1h-1zM740 161h2v1h-2zM742 162h1v1h-1zM743 163h2v1h-2zM745 164h1v1h-1zM746 165h1v1h-1zM747 166h2v1h-2zM749 167h1v1h-1zM750 168h2v1h-2zM752 169h1v1h-1zM753 170h2v1h-2zM755 171h1v1h-1zM756 172h1v1h-1zM757 173h2v1h-2zM759 174h1v1h-1zM760 175h1v1h-1zM761 176h1v1h-1zM762 177h2v1h-2zM764 178h1v1h-1zM765 179h1v1h-1zM766 180h1v1h-1zM767 181h1v1h-1zM768 182h2v1h-2zM770 183h1v1h-1zM771 184h1v1h-1zM772 185h1v1h-1zM773 186h2v1h-2zM775 187h1v1h-1zM776 188h2v1h-2zM778 189h1v1h-1zM779 190h1v1h-1zM780 191h1v1h-1zM781 192h2v1h-2zM783 193h1v1h-1zM784 194h2v1h-2zM786 195h1v1h-1zM787 196h2v1h-2zM789 197h3v1h-3zM792 198h4v1h-4zM796 199h3v1h-3zM799 200h3v1h-3zM802 201h6v1h-6zM808 202h7v1h-7zM815 203h13v1h-13zM828 204h9v1h-9zM837 205h2v1h-2zM839 206h2v1h-2zM841 207h2v1h-2zM843 208h3v1h-3zM846 209h2v1h-2zM848 210h2v1h-2zM850 211h2v1h-2zM852 212h2v1h-2zM854 213h2v1h-2zM856 214h1v1h-1zM857 215h2v1h-2zM859 216h1v1h-1zM860 217h2v1h-2zM862 218h1v1h-1zM863 219h2v1h-2zM865 220h2v1h-2zM867 221h1v2h-1zM868 223h1v2h-1zM869 225h1v2h-1zM870 227h1v2h-1zM871 229h1v2h-1zM872 231h1v2h-1zM873 233h1v2h-1zM874 235h1v2h-1zM875 237h1v3h-1zM876 240h1v2h-1zM877 242h1v2h-1zM878 244h1v2h-1zM879 246h1v2h-1zM880 248h1v2h-1zM881 250h1v2h-1zM882 252h1v2h-1zM883 254h1v2h-1zM884 256h1v1h-1zM885 257h1v1h-1zM886 258h1v1h-1zM887 259h1v2h-1zM888 261h1v1h-1zM889 262h1v1h-1zM890 263h1v1h-1zM891 264h1v1h-1zM892 265h1v1h-1zM893 266h1v1h-1zM894 267h1v1h-1zM895 268h1v2h-1zM896 270h1v1h-1zM897 271h1v1h-1zM898 272h1v1h-1zM899 273h1v1h-1zM900 274h2v1h-2zM902 275h2v1h-2zM904 276h2v1h-2zM906 277h2v1h-2zM908 278h1v1h-1zM909 279h2v1h-2zM911 280h2v1h-2zM913 281h2v1h-2zM915 282h1v1h-1zM916 283h1v2h-1zM917 285h1v1h-1zM918 286h1v2h-1zM919 288h1v1h-1zM920 289h1v1h-1zM921 290h1v2h-1zM922 292h1v1h-1zM923 293h1v2h-1zM924 295h1v1h-1zM925 296h1v2h-1zM926 298h1v1h-1zM927 299h1v1h-1zM928 300h1v2h-1zM929 302h1v1h-1zM930 303h1v2h-1zM931 305h1v1h-1zM932 306h1v1h-1zM933 307h2v1h-2zM935 308h1v1h-1zM936 309h1v1h-1zM937 310h1v1h-1zM938 311h2v1h-2zM940 312h1v1h-1zM941 313h1v1h-1zM942 314h1v1h-1zM943 315h1v1h-1zM944 316h2v1h-2zM946 317h1v1h-1zM947 318h1v1h-1zM948 319h1v2h-1zM949 321h1v2h-1zM950 323h1v2h-1zM951 325h1v2h-1zM952 327h1v2h-1zM953 329h1v2h-1zM954 331h1v2h-1zM955 333h1v1h-1zM956 334h1v2h-1zM957 336h1v2h-1zM958 338h1v2h-1zM959 340h1v2h-1zM960 342h1v2h-1zM961 344h1v2h-1zM962 346h1v2h-1zM963 348h1v1h-1zM964 346h1v2h-1zM965 345h1v1h-1zM966 343h1v2h-1zM967 342h1v1h-1zM968 340h1v2h-1zM969 339h1v1h-1zM970 337h1v2h-1zM971 336h1v1h-1zM972 334h1v2h-1zM973 333h1v1h-1zM974 331h1v2h-1zM975 330h1v1h-1zM976 328h1v2h-1zM977 327h1v1h-1zM978 325h1v2h-1zM979 324h9v1h-9zM988 323h8v1h-8zM996 322h1v1h-1zM997 321h2v1h-2zM999 320h1v1h-1zM1000 319h2v1h-2zM1002 318h1v1h-1zM1003 317h1v1h-1zM1004 316h1v1h-1zM1005 315h2v1h-2zM1007 314h1v1h-1zM1008 313h2v1h-2zM1010 312h1v1h-1zM1011 311h3v1h-3zM1014 310h3v1h-3zM1017 309h5v1h-5zM1022 308h3v1h-3zM1025 307h3v1h-3zM1028 306h1v1h-1zM1029 305h1v1h-1zM1030 303h1v2h-1zM1031 302h1v1h-1zM1032 301h1v1h-1zM1033 300h1v1h-1zM1034 299h1v1h-1zM1035 297h1v2h-1zM1036 296h1v1h-1zM1037 295h1v1h-1zM1038 294h1v1h-1zM1039 293h1v1h-1zM1040 291h1v2h-1zM1041 290h1v1h-1zM1042 289h1v1h-1zM1043 288h1v1h-1zM1044 287h1v1h-1zM1045 285h1v2h-1zM1046 284h1v1h-1zM1047 283h1v1h-1zM1048 282h1v1h-1zM1049 280h1v2h-1zM1050 279h1v1h-1zM1051 278h1v1h-1zM1052 277h1v1h-1zM1053 275h1v2h-1zM1054 274h1v1h-1zM1055 273h1v1h-1zM1056 272h1v1h-1zM1057 270h1v2h-1zM1058 269h1v1h-1zM1059 268h1v1h-1zM1060 266h1v2h-1zM1061 265h1v1h-1zM1062 263h1v2h-1zM1063 262h1v1h-1zM1064 260h1v2h-1zM1065 259h1v1h-1zM1066 257h1v2h-1zM1067 256h1v1h-1zM1068 254h1v2h-1zM1069 253h1v1h-1zM1070 251h1v2h-1zM1071 250h1v1h-1zM1072 248h1v2h-1zM1073 247h1v1h-1zM1074 245h1v2h-1zM1075 244h1v1h-1zM1076 243h1v1h-1zM1077 242h1v1h-1zM1078 241h1v1h-1zM1079 239h1v2h-1zM1080 238h1v1h-1zM1081 237h1v1h-1zM1082 236h1v1h-1zM1083 235h1v1h-1zM1084 234h1v1h-1zM1085 233h1v1h-1zM1086 232h1v1h-1zM1087 230h1v2h-1zM1088 229h1v1h-1zM1089 228h1v1h-1zM1090 227h1v1h-1zM1091 226h17v1h-17zM1108 227h1v1h-1zM1109 228h1v2h-1zM1110 230h1v1h-1zM1111 231h1v1h-1zM1112 232h1v1h-1zM1113 233h1v2h-1zM1114 235h1v1h-1zM1115 236h1v1h-1zM1116 237h1v1h-1zM1117 238h1v2h-1zM1118 240h1v1h-1zM1119 241h1v1h-1zM1120 242h1v1h-1zM1121 243h1v2h-1zM1122 245h1v1h-1zM1123 246h2v1h-2zM1125 247h1v1h-1zM1126 248h3v1h-3zM1129 249h1v1h-1zM1130 250h3v1h-3zM1133 251h1v1h-1zM1134 252h3v1h-3zM1137 253h1v1h-1zM1138 254h2v1h-2zM1140 253h1v1h-1zM1141 252h1v1h-1zM1142 251h1v1h-1zM1143 250h1v1h-1zM1144 249h1v1h-1zM1145 248h1v1h-1zM1146 247h1v1h-1zM1147 246h2v1h-2zM1149 245h1v1h-1zM1150 244h1v1h-1zM1151 243h1v1h-1zM1152 242h1v1h-1zM1153 241h1v1h-1zM1154 240h1v1h-1zM1155 239h1v1h-1zM1156 240h1v1h-1zM1157 241h1v1h-1zM1158 242h1v1h-1zM1159 243h1v1h-1zM1160 244h1v1h-1zM1161 245h1v1h-1zM1162 246h1v1h-1zM1163 247h1v2h-1zM1164 249h1v1h-1zM1165 250h1v1h-1zM1166 251h1v1h-1zM1167 252h1v1h-1zM1168 253h1v1h-1zM1169 254h1v1h-1zM1170 255h1v1h-1zM1171 256h1v1h-1zM1172 257h1v1h-1zM1173 258h1v1h-1zM1174 259h1v1h-1zM1175 260h2v1h-2zM1177 261h1v1h-1zM1178 262h1v1h-1zM1179 263h1v1h-1zM1180 264h1v1h-1zM1181 265h1v1h-1zM1182 266h2v1h-2zM1184 267h1v1h-1zM1185 268h1v1h-1zM1186 269h1v1h-1zM1187 270h1v1h-1zM1188 271h1v1h-1zM1189 272h1v1h-1zM1190 273h1v1h-1zM1191 274h1v1h-1zM1192 275h1v1h-1zM1193 276h1v1h-1zM1194 277h1v1h-1zM1195 278h2v1h-2zM1197 279h1v1h-1zM1198 280h1v1h-1zM1199 281h1v1h-1zM1200 282h1v1h-1zM1201 283h1v1h-1zM1202 284h1v1h-1zM1203 285h1v1h-1zM1204 284h2v1h-2zM1206 283h2v1h-2zM1208 282h2v1h-2zM1210 281h2v1h-2zM1212 280h1v1h-1zM1213 279h2v1h-2zM1215 278h2v1h-2zM1217 277h2v1h-2zM1219 276h2v1h-2zM1221 275h2v1h-2zM1223 274h2v1h-2zM1225 273h2v1h-2zM1227 272h3v1h-3zM1230 271h2v1h-2zM1232 270h2v1h-2zM1234 269h2v1h-2zM1236 268h2v1h-2zM1238 267h2v1h-2zM1240 266h1v1h-1zM1241 265h2v1h-2zM1243 264h1v1h-1zM1244 263h2v1h-2zM1246 262h1v1h-1zM1247 261h2v1h-2zM1249 260h2v1h-2zM1251 259h2v1h-2zM1253 258h2v1h-2zM1255 257h2v1h-2zM1257 256h2v1h-2zM1259 255h3v1h-3zM1262 254h2v1h-2zM1264 253h2v1h-2zM1266 252h2v1h-2zM1268 251h1v1h-1zM1269 250h1v1h-1zM1270 249h1v1h-1zM1271 247h1v2h-1zM1272 246h1v1h-1zM1273 245h1v1h-1zM1274 244h1v1h-1zM1275 243h1v1h-1zM1276 242h1v1h-1zM1277 241h1v1h-1zM1278 240h1v1h-1zM1279 238h1v2h-1zM1280 237h1v1h-1zM1281 236h1v1h-1zM1282 235h1v1h-1zM1283 234h3v1h-3zM1286 233h3v1h-3zM1289 232h5v1h-5zM1294 231h3v1h-3zM1297 230h2v1h-2z" fill="#0000FF"/>
<path d="M5 425h2v1h-2zM7 426h1v1h-1zM11 427h2v1h-2zM13 428h1v1h-1zM17 429h1v1h-1zM18 430h2v1h-2zM23 428h3v1h-3zM29 426h3v1h-3zM35 424h1v1h-1zM36 425h2v1h-2zM41 428h2v1h-2zM43 429h1v1h-1zM47 432h2v1h-2zM49 433h1v1h-1zM53 436h1v1h-1zM54 437h1v1h-1zM55 438h1v1h-1zM59 442h1v1h-1zM60 443h1v1h-1zM61 444h1v1h-1zM65 448h1v1h-1zM66 449h1v1h-1zM67 450h1v1h-1zM71 450h3v1h-3zM77 450h3v1h-3zM83 450h1v1h-1zM84 451h1v2h-1zM87 456h1v1h-1zM88 457h1v1h-1zM89 458h1v1h-1zM92 462h1v2h-1zM93 464h1v1h-1zM96 468h1v1h-1zM97 469h1v1h-1zM98 470h1v1h-1zM101 474h1v1h-1zM102 475h1v1h-1zM103 476h1v1h-1zM107 480h1v1h-1zM108 481h1v1h-1zM109 482h1v1h-1zM113 486h1v1h-1zM114 487h1v1h-1zM115 488h1v1h-1zM119 483h1v2h-1zM120 482h1v1h-1zM124 478h1v1h-1zM125 477h1v1h-1zM126 476h1v1h-1zM129 472h1v1h-1zM130 471h1v1h-1zM131 470h1v1h-1zM135 468h1v1h-1zM136 467h1v1h-1zM137 466h1v1h-1zM141 464h1v1h-1zM142 463h1v1h-1zM143 462h1v1h-1zM147 460h3v1h-3zM153 460h3v1h-3zM159 460h3v1h-3zM165 460h1v1h-1zM166 459h2v1h-2zM171 458h3v1h-3zM177 456h3v1h-3zM182 452h1v1h-1zM183 450h1v2h-1zM186 446h1v1h-1zM187 445h1v1h-1zM188 444h1v1h-1zM191 439h1v2h-1zM192 438h1v1h-1zM195 433h1v2h-1zM196 432h1v1h-1zM197 427h1v2h-1zM198 426h1v1h-1zM199 421h1v2h-1zM200 420h1v1h-1zM201 415h1v2h-1zM202 414h1v1h-1zM203 410h1v1h-1zM204 408h1v2h-1zM205 404h1v1h-1zM206 402h1v2h-1zM207 398h1v1h-1zM208 396h1v2h-1zM209 392h1v1h-1zM210 390h1v2h-1zM211 386h1v1h-1zM212 384h1v2h-1zM214 380h1v1h-1zM215 378h1v2h-1zM217 373h1v2h-1zM218 372h1v1h-1zM219 368h1v1h-1zM220 366h1v2h-1zM222 362h1v1h-1zM223 360h1v2h-1zM225 355h1v2h-1zM226 354h1v1h-1zM228 349h1v2h-1zM229 348h1v1h-1zM231 343h1v2h-1zM232 342h1v1h-1zM234 337h1v2h-1zM235 336h1v1h-1zM237 332h1v1h-1zM238 330h1v2h-1zM240 326h1v1h-1zM241 324h1v2h-1zM244 320h1v1h-1zM245 318h1v2h-1zM249 313h1v2h-1zM250 312h1v1h-1zM253 308h1v1h-1zM254 307h1v1h-1zM255 306h1v1h-1zM258 302h1v1h-1zM259 301h1v1h-1zM260 300h1v1h-1zM264 296h1v1h-1zM265 295h1v1h-1zM266 294h1v1h-1zM270 291h1v1h-1zM271 290h1v1h-1zM272 289h1v1h-1zM276 285h1v1h-1zM277 284h2v1h-2zM282 280h2v1h-2zM284 279h1v1h-1zM288 275h2v1h-2zM290 274h1v1h-1zM294 272h3v1h-3zM300 271h3v1h-3zM306 270h2v1h-2zM308 269h1v1h-1zM310 265h1v1h-1zM311 264h1v1h-1zM312 263h1v1h-1zM314 259h1v1h-1zM315 258h1v1h-1zM316 257h1v1h-1zM318 253h1v1h-1zM319 252h1v1h-1zM320 251h1v1h-1zM322 247h1v1h-1zM323 246h1v1h-1zM324 245h1v1h-1zM328 242h1v1h-1zM329 241h1v1h-1zM330 240h1v1h-1zM334 237h1v1h-1zM335 236h1v1h-1zM336 235h1v1h-1zM340 232h1v1h-1zM341 230h1v2h-1zM345 225h1v2h-1zM346 224h1v1h-1zM349 220h1v1h-1zM350 219h1v1h-1zM351 218h1v1h-1zM354 214h1v1h-1zM355 213h1v1h-1zM356 212h1v1h-1zM360 208h1v1h-1zM361 207h1v1h-1zM362 206h1v1h-1zM366 202h1v1h-1zM367 201h1v1h-1zM368 200h1v1h-1zM372 197h1v1h-1zM373 196h2v1h-2zM378 194h1v1h-1zM379 193h2v1h-2zM384 191h2v1h-2zM386 190h1v1h-1zM390 191h3v1h-3zM396 192h2v1h-2zM398 193h1v1h-1zM402 194h3v1h-3zM408 192h2v1h-2zM410 191h1v1h-1zM414 190h2v1h-2zM416 189h1v1h-1zM420 187h1v1h-1zM421 186h1v1h-1zM422 185h1v1h-1zM425 181h1v1h-1zM426 180h1v1h-1zM427 179h1v1h-1zM430 175h1v1h-1zM431 174h1v1h-1zM432 173h1v1h-1zM435 169h1v1h-1zM436 168h1v1h-1zM437 167h1v1h-1zM441 164h1v1h-1zM442 163h2v1h-2zM447 159h1v1h-1zM448 158h2v1h-2zM452 153h1v2h-1zM453 152h1v1h-1zM455 147h1v2h-1zM456 146h1v1h-1zM458 141h1v2h-1zM459 140h1v1h-1zM461 135h1v2h-1zM462 134h1v1h-1zM464 129h1v2h-1zM465 128h1v1h-1zM467 123h1v2h-1zM468 122h1v1h-1zM472 119h1v1h-1zM473 118h1v1h-1zM474 117h1v1h-1zM478 114h1v1h-1zM479 113h1v1h-1zM480 112h1v1h-1zM484 110h1v1h-1zM485 109h2v1h-2zM490 107h3v1h-3zM496 105h2v1h-2zM498 104h1v1h-1zM502 106h1v1h-1zM503 107h2v1h-2zM508 110h1v1h-1zM509 111h1v1h-1zM510 112h1v1h-1zM514 114h1v1h-1zM515 115h2v1h-2zM520 113h1v1h-1zM521 112h1v1h-1zM522 111h1v1h-1zM526 109h3v1h-3zM532 107h2v1h-2zM534 106h1v1h-1zM538 106h1v1h-1zM539 105h2v1h-2zM544 105h1v1h-1zM545 104h2v1h-2zM550 102h1v1h-1zM551 101h1v1h-1zM552 100h1v1h-1zM556 97h1v1h-1zM557 96h2v1h-2zM562 93h1v1h-1zM563 92h2v1h-2zM568 91h3v1h-3zM574 91h1v1h-1zM575 90h2v1h-2zM580 90h2v1h-2zM582 89h1v1h-1zM586 89h1v1h-1zM587 88h2v1h-2zM592 88h1v1h-1zM593 87h2v1h-2zM598 88h3v1h-3zM604 89h3v1h-3zM610 90h3v1h-3zM616 89h3v1h-3zM622 88h3v1h-3zM628 88h1v1h-1zM629 89h1v1h-1zM630 90h1v1h-1zM634 93h1v1h-1zM635 94h1v1h-1zM636 95h1v1h-1zM640 98h1v1h-1zM641 99h1v1h-1zM642 100h1v1h-1zM646 103h1v1h-1zM647 104h2v1h-2zM652 107h1v1h-1zM653 108h1v1h-1zM654 109h1v1h-1zM658 111h1v1h-1zM659 112h1v1h-1zM660 113h1v1h-1zM664 116h2v1h-2zM666 117h1v1h-1zM670 120h1v1h-1zM671 121h1v1h-1zM672 122h1v1h-1zM676 125h1v2h-1zM677 127h1v1h-1zM680 131h1v2h-1zM681 133h1v1h-1zM684 137h1v2h-1zM685 139h1v1h-1zM688 143h1v2h-1zM689 145h1v1h-1zM692 149h1v1h-1zM693 150h2v1h-2zM698 153h1v1h-1zM699 154h1v1h-1zM700 155h1v1h-1zM704 158h2v1h-2zM706 159h1v1h-1zM710 162h1v1h-1zM711 163h2v1h-2zM716 166h1v1h-1zM717 167h1v1h-1zM718 168h1v1h-1zM722 170h1v1h-1zM723 171h1v1h-1zM724 172h1v1h-1zM728 175h1v1h-1zM729 176h1v1h-1zM730 177h1v1h-1zM734 180h1v1h-1zM735 181h1v1h-1zM736 182h1v1h-1zM740 185h1v1h-1zM741 186h2v1h-2zM746 189h1v1h-1zM747 190h1v1h-1zM748 191h1v1h-1zM752 194h2v1h-2zM754 195h1v1h-1zM758 197h2v1h-2zM760 198h1v1h-1zM764 199h3v1h-3zM770 201h3v1h-3zM776 202h3v1h-3zM782 202h1v1h-1zM783 203h2v1h-2zM788 203h3v1h-3zM794 203h2v1h-2zM796 204h1v1h-1zM800 204h3v1h-3zM806 205h1v1h-1zM807 206h2v1h-2zM812 208h2v1h-2zM814 209h1v1h-1zM818 211h2v1h-2zM820 212h1v1h-1zM824 214h1v1h-1zM825 215h2v1h-2zM830 218h1v1h-1zM831 219h2v1h-2zM835 222h1v1h-1zM836 223h1v2h-1zM838 228h1v1h-1zM839 229h1v2h-1zM841 234h1v1h-1zM842 235h1v2h-1zM844 240h1v2h-1zM845 242h1v1h-1zM847 246h1v2h-1zM848 248h1v1h-1zM850 252h1v2h-1zM851 254h1v1h-1zM854 258h1v1h-1zM855 259h1v2h-1zM859 264h1v1h-1zM860 265h1v1h-1zM861 266h1v1h-1zM864 270h1v1h-1zM865 271h1v1h-1zM866 272h1v1h-1zM870 275h2v1h-2zM872 276h1v1h-1zM876 278h1v1h-1zM877 279h2v1h-2zM882 281h1v1h-1zM883 282h1v1h-1zM884 283h1v1h-1zM886 287h1v1h-1zM887 288h1v1h-1zM888 289h1v1h-1zM891 293h1v2h-1zM892 295h1v1h-1zM895 299h1v1h-1zM896 300h1v2h-1zM899 305h1v1h-1zM900 306h1v1h-1zM901 307h1v1h-1zM905 310h1v1h-1zM906 311h2v1h-2zM911 315h1v1h-1zM912 316h2v1h-2zM916 320h1v1h-1zM917 321h1v2h-1zM919 326h1v1h-1zM920 327h1v2h-1zM922 332h1v1h-1zM923 333h1v1h-1zM924 334h1v1h-1zM926 338h1v2h-1zM927 340h1v1h-1zM929 344h1v2h-1zM930 346h1v1h-1zM932 346h1v1h-1zM933 345h1v1h-1zM934 344h1v1h-1zM936 340h1v1h-1zM937 339h1v1h-1zM938 338h1v1h-1zM940 334h1v1h-1zM941 333h1v1h-1zM942 332h1v1h-1zM944 328h1v1h-1zM945 327h1v1h-1zM946 326h1v1h-1zM949 324h3v1h-3zM955 324h1v1h-1zM956 323h2v1h-2zM961 323h3v1h-3zM967 320h1v1h-1zM968 319h2v1h-2zM973 315h2v1h-2zM975 314h1v1h-1zM979 311h3v1h-3zM985 309h3v1h-3zM991 308h2v1h-2zM993 307h1v1h-1zM997 305h1v1h-1zM998 303h1v2h-1zM1002 299h1v1h-1zM1003 297h1v2h-1zM1007 293h1v1h-1zM1008 291h1v2h-1zM1012 287h1v1h-1zM1013 285h1v2h-1zM1017 280h1v2h-1zM1018 279h1v1h-1zM1021 275h1v1h-1zM1022 274h1v1h-1zM1023 273h1v1h-1zM1026 269h1v1h-1zM1027 268h1v1h-1zM1028 267h1v1h-1zM1030 263h1v1h-1zM1031 262h1v1h-1zM1032 261h1v1h-1zM1034 257h1v1h-1zM1035 256h1v1h-1zM1036 255h1v1h-1zM1038 251h1v1h-1zM1039 250h1v1h-1zM1040 249h1v1h-1zM1042 245h1v1h-1zM1043 244h1v1h-1zM1044 243h1v1h-1zM1047 239h1v1h-1zM1048 238h1v1h-1zM1049 237h1v1h-1zM1053 233h1v1h-1zM1054 232h1v1h-1zM1055 231h1v1h-1zM1058 227h1v1h-1zM1059 226h2v1h-2zM1064 226h3v1h-3zM1070 226h3v1h-3zM1076 227h1v1h-1zM1077 228h1v2h-1zM1081 233h1v2h-1zM1082 235h1v1h-1zM1085 239h1v1h-1zM1086 240h1v1h-1zM1087 241h1v1h-1zM1090 245h1v1h-1zM1091 246h2v1h-2zM1096 248h1v1h-1zM1097 249h1v1h-1zM1098 250h1v1h-1zM1102 252h3v1h-3zM1108 253h1v1h-1zM1109 252h1v1h-1zM1110 251h1v1h-1zM1114 247h1v1h-1zM1115 246h2v1h-2zM1120 242h1v1h-1zM1121 241h1v1h-1zM1122 240h1v1h-1zM1126 242h1v1h-1zM1127 243h1v1h-1zM1128 244h1v1h-1zM1131 248h1v1h-1zM1132 249h1v1h-1zM1133 250h1v1h-1zM1137 254h1v1h-1zM1138 255h1v1h-1zM1139 256h1v1h-1zM1143 260h2v1h-2zM1145 261h1v1h-1zM1149 265h1v1h-1zM1150 266h2v1h-2zM1155 270h1v1h-1zM1156 271h1v1h-1zM1157 272h1v1h-1zM1161 276h1v1h-1zM1162 277h1v1h-1zM1163 278h1v1h-1zM1167 281h1v1h-1zM1168 282h1v1h-1zM1169 283h1v1h-1zM1173 284h1v1h-1zM1174 283h2v1h-2zM1179 281h1v1h-1zM1180 280h1v1h-1zM1181 279h1v1h-1zM1185 277h2v1h-2zM1187 276h1v1h-1zM1191 274h2v1h-2zM1193 273h1v1h-1zM1197 272h1v1h-1zM1198 271h2v1h-2zM1203 269h1v1h-1zM1204 268h2v1h-2zM1209 265h2v1h-2zM1211 264h1v1h-1zM1215 261h2v1h-2zM1217 260h1v1h-1zM1221 258h2v1h-2zM1223 257h1v1h-1zM1227 255h3v1h-3zM1233 253h1v1h-1zM1234 252h2v1h-2zM1239 247h1v2h-1zM1240 246h1v1h-1zM1244 242h1v1h-1zM1245 241h1v1h-1zM1246 240h1v1h-1zM1249 236h1v1h-1zM1250 235h1v1h-1zM1251 234h1v1h-1zM1255 233h2v1h-2zM1257 232h1v1h-1zM1261 232h1v1h-1zM1262 231h2v1h-2zM1267 230h3v1h-3zM1273 230h3v1h-3zM1279 230h3v1h-3zM1285 232h1v1h-1zM1286 233h1v1h-1zM1287 234h1v1h-1zM1291 237h1v1h-1zM1292 238h1v1h-1zM1293 239h1v1h-1zM1297 242h1v1h-1zM1298 243h1v1h-1z" fill="#FF0000"/>
</g>
<g clip-path="url(#c)">
<polygon fill="#FF0000" points="3.5,382.6 9,377.1 9,373.1 5,376.9 5,369 2,369 2,376.9 -2,373.1 -2,377.1"/>
<polygon fill="#FF0000" points="595.5,48.6 601,43.1 601,39.1 597,42.9 597,35 594,35 594,42.9 590,39.1 590,43.1"/>
<polygon fill="#FF0000" points="1043.5,177.7 1049,172.2 1049,168.2 1045,172 1045,164.1 1042,164.1 1042,172 1038,168.2 1038,172.2"/>
<polygon fill="#FF0000" points="1091.5,174.6 1097,169.1 1097,165.1 1093,168.9 1093,161 1090,161 1090,168.9 1086,165.1 1086,169.1"/>
<polygon fill="#FF0000" points="1251.5,200.8 1257,195.3 1257,191.3 1253,195.1 1253,187.2 1250,187.2 1250,195.1 1246,191.3 1246,195.3"/>
<polygon fill="#0000FF" points="99.1,467.2 104.6,472.7 104.6,476.7 100.6,472.9 100.6,480.8 97.6,480.8 97.6,472.9 93.6,476.7 93.6,472.7"/>
<polygon fill="#0000FF" points="931.1,352.2 936.6,357.7 936.6,361.7 932.6,357.9 932.6,365.8 929.6,365.8 929.6,357.9 925.6,361.7 925.6,357.7"/>
<polygon fill="#0000FF" points="1155.1,300.5 1160.6,306 1160.6,310 1156.6,306.2 1156.6,314.1 1153.6,314.1 1153.6,306.2 1149.6,310 1149.6,306"/>
</g>
<g shape-rendering="crispEdges" fill="#000">
<rect x="2" y="2" width="1314" height="1"/><rect x="2" y="2" width="1" height="562"/><rect x="1315" y="2" width="1" height="562"/><rect x="2" y="563" width="1314" height="1"/>
<rect x="1316" y="32" width="2" height="1"/><rect x="1316" y="65" width="2" height="1"/><rect x="1316" y="98" width="2" height="1"/><rect x="1316" y="131" width="2" height="1"/><rect x="1316" y="164" width="2" height="1"/><rect x="1316" y="197" width="2" height="1"/><rect x="1316" y="230" width="2" height="1"/><rect x="1316" y="263" width="2" height="1"/><rect x="1316" y="296" width="2" height="1"/><rect x="1316" y="329" width="2" height="1"/><rect x="1316" y="362" width="2" height="1"/><rect x="1316" y="395" width="2" height="1"/><rect x="1316" y="428" width="2" height="1"/><rect x="1316" y="461" width="2" height="1"/><rect x="1316" y="494" width="2" height="1"/><rect x="1316" y="527" width="2" height="1"/><rect x="1316" y="560" width="2" height="1"/>
<rect x="3" y="564" width="1" height="3"/><rect x="67" y="564" width="1" height="3"/><rect x="131" y="564" width="1" height="3"/><rect x="195" y="564" width="1" height="3"/><rect x="259" y="564" width="1" height="3"/><rect x="323" y="564" width="1" height="3"/><rect x="387" y="564" width="1" height="3"/><rect x="451" y="564" width="1" height="3"/><rect x="515" y="564" width="1" height="3"/><rect x="579" y="564" width="1" height="3"/><rect x="643" y="564" width="1" height="3"/><rect x="707" y="564" width="1" height="3"/><rect x="771" y="564" width="1" height="3"/><rect x="835" y="564" width="1" height="3"/><rect x="899" y="564" width="1" height="3"/><rect x="963" y="564" width="1" height="3"/><rect x="1027" y="564" width="1" height="3"/><rect x="1091" y="564" width="1" height="3"/><rect x="1155" y="564" width="1" height="3"/><rect x="1219" y="564" width="1" height="3"/>
<rect x="1315" y="276" width="1" height="1" fill="#D0D0D0"/>
<polygon points="6,9 13,9 9.5,13"/>
</g>
<text x="18.3" y="14" textLength="62.6" lengthAdjust="spacingAndGlyphs">GBPCHF,Daily</text><text x="88.6" y="14" textLength="31.7" lengthAdjust="spacingAndGlyphs">1.24471</text><text x="124.6" y="14" textLength="31.7" lengthAdjust="spacingAndGlyphs">1.24869</text><text x="160.6" y="14" textLength="31.7" lengthAdjust="spacingAndGlyphs">1.23803</text><text x="196.6" y="14" textLength="31.7" lengthAdjust="spacingAndGlyphs">1.24326</text>
<text x="1219" y="15" textLength="77" lengthAdjust="spacingAndGlyphs">Forex Rebellion EA</text>
<g fill="none" stroke="#000" stroke-width="1"><circle cx="1304.6" cy="11.9" r="5.3"/><path d="M1301.9 15.1 A2.75 2.7 0 0 1 1307.4 15.1"/></g><rect x="1301.9" y="9.1" width="1.5" height="1.7"/><rect x="1305.7" y="9.1" width="1.5" height="1.7"/>
<text x="1321.6" y="36" textLength="31.7" lengthAdjust="spacingAndGlyphs">1.29080</text><text x="1321.6" y="69" textLength="31.7" lengthAdjust="spacingAndGlyphs">1.28435</text><text x="1321.6" y="102" textLength="31.7" lengthAdjust="spacingAndGlyphs">1.27790</text><text x="1321.6" y="135" textLength="31.7" lengthAdjust="spacingAndGlyphs">1.27145</text><text x="1321.6" y="168" textLength="31.7" lengthAdjust="spacingAndGlyphs">1.26500</text><text x="1321.6" y="201" textLength="31.7" lengthAdjust="spacingAndGlyphs">1.25855</text><text x="1321.6" y="234" textLength="31.7" lengthAdjust="spacingAndGlyphs">1.25210</text><text x="1321.6" y="267" textLength="31.7" lengthAdjust="spacingAndGlyphs">1.24580</text><text x="1321.6" y="300" textLength="31.7" lengthAdjust="spacingAndGlyphs">1.23935</text><text x="1321.6" y="333" textLength="31.7" lengthAdjust="spacingAndGlyphs">1.23290</text><text x="1321.6" y="366" textLength="31.7" lengthAdjust="spacingAndGlyphs">1.22645</text><text x="1321.6" y="399" textLength="31.7" lengthAdjust="spacingAndGlyphs">1.22000</text><text x="1321.6" y="432" textLength="31.7" lengthAdjust="spacingAndGlyphs">1.21355</text><text x="1321.6" y="465" textLength="31.7" lengthAdjust="spacingAndGlyphs">1.20710</text><text x="1321.6" y="498" textLength="31.7" lengthAdjust="spacingAndGlyphs">1.20065</text><text x="1321.6" y="531" textLength="31.7" lengthAdjust="spacingAndGlyphs">1.19420</text><text x="1321.6" y="564" textLength="31.7" lengthAdjust="spacingAndGlyphs">1.18775</text>
<rect x="1317" y="271" width="41" height="11" fill="#000" shape-rendering="crispEdges"/><text class="w" x="1321.6" y="280" textLength="31.7" lengthAdjust="spacingAndGlyphs">1.24326</text>
<text x="2" y="576" textLength="50.4" lengthAdjust="spacingAndGlyphs">27 Oct 2016</text><text x="66" y="576" textLength="48.1" lengthAdjust="spacingAndGlyphs">2 Nov 2016</text><text x="130" y="576" textLength="48.1" lengthAdjust="spacingAndGlyphs">8 Nov 2016</text><text x="194" y="576" textLength="53.1" lengthAdjust="spacingAndGlyphs">14 Nov 2016</text><text x="258" y="576" textLength="53.1" lengthAdjust="spacingAndGlyphs">18 Nov 2016</text><text x="322" y="576" textLength="53.1" lengthAdjust="spacingAndGlyphs">24 Nov 2016</text><text x="386" y="576" textLength="53.1" lengthAdjust="spacingAndGlyphs">30 Nov 2016</text><text x="450" y="576" textLength="46.7" lengthAdjust="spacingAndGlyphs">6 Dec 2016</text><text x="514" y="576" textLength="51.7" lengthAdjust="spacingAndGlyphs">12 Dec 2016</text><text x="642" y="576" textLength="51.7" lengthAdjust="spacingAndGlyphs">22 Dec 2016</text><text x="706" y="576" textLength="51.7" lengthAdjust="spacingAndGlyphs">29 Dec 2016</text><text x="770" y="576" textLength="44.6" lengthAdjust="spacingAndGlyphs">5 Jan 2017</text><text x="834" y="576" textLength="49.6" lengthAdjust="spacingAndGlyphs">11 Jan 2017</text><text x="898" y="576" textLength="49.6" lengthAdjust="spacingAndGlyphs">17 Jan 2017</text><text x="962" y="576" textLength="49.6" lengthAdjust="spacingAndGlyphs">23 Jan 2017</text><text x="1026" y="576" textLength="49.6" lengthAdjust="spacingAndGlyphs">27 Jan 2017</text><text x="1090" y="576" textLength="46.3" lengthAdjust="spacingAndGlyphs">2 Feb 2017</text><text x="1154" y="576" textLength="46.3" lengthAdjust="spacingAndGlyphs">8 Feb 2017</text><text x="1218" y="576" textLength="51.3" lengthAdjust="spacingAndGlyphs">14 Feb 2017</text>
<rect x="555" y="567" width="80" height="11" fill="#FF0000" shape-rendering="crispEdges"/><text class="w" x="559.7" y="576" textLength="71" lengthAdjust="spacingAndGlyphs">2016.12.19 00:00</text>
<rect x="923" y="567" width="80" height="11" fill="#0000FF" shape-rendering="crispEdges"/><text class="w" x="927.7" y="576" textLength="71" lengthAdjust="spacingAndGlyphs">2017.01.23 00:00</text>
</svg>
</body>
</html>
